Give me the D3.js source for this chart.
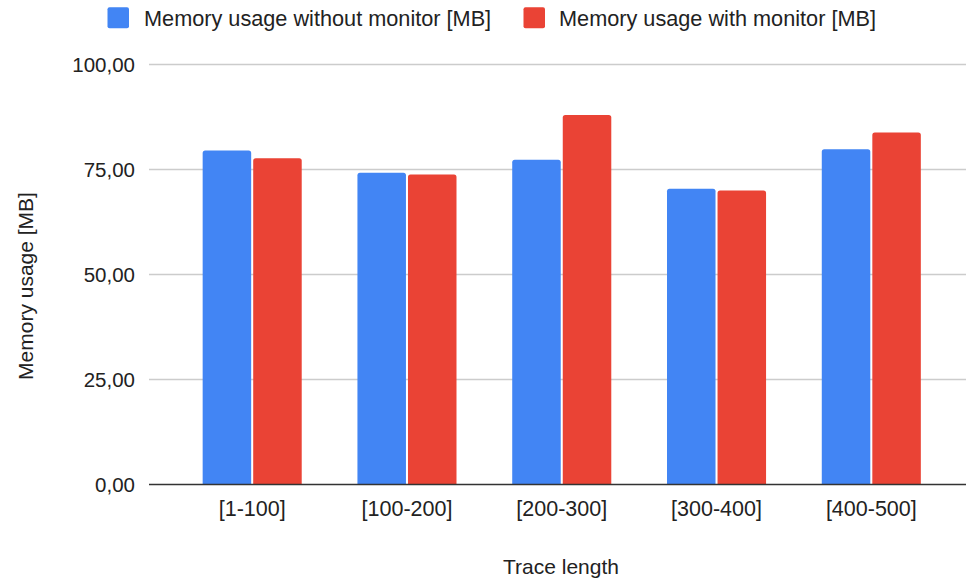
<!DOCTYPE html>
<html>
<head>
<meta charset="utf-8">
<script src="https://cdn.jsdelivr.net/npm/d3@7"></script>
<style>
  body { margin: 0; background: #fff; }
  text { font-family: "Liberation Sans", Arial, sans-serif; }
</style>
</head>
<body>
<script>
var categories = ['[1-100]', '[100-200]', '[200-300]', '[300-400]', '[400-500]'];
var seriesNames = ['Memory usage without monitor [MB]', 'Memory usage with monitor [MB]'];
var withoutMonitor = [79.5, 74.2, 77.3, 70.4, 79.8];
var withMonitor = [77.7, 73.8, 88.0, 70.0, 83.8];
var yTicks = [0, 25, 50, 75, 100];
var colors = ['#4285f4', '#ea4335'];

var canvasWidth = 966;
var canvasHeight = 579;

var svg = d3.select('body')
    .append('svg')
    .attr('width', canvasWidth)
    .attr('height', canvasHeight);

var gridLeft = 149, gridRight = 966;

var yScale = d3.scaleLinear().domain([0, 100]).range([484.5, 64.5]);

var x0 = d3.scaleBand()
    .domain(categories)
    .range([174.8, 948.7])
    .paddingInner(0.36)
    .paddingOuter(0.18);

var x1 = d3.scaleBand()
    .domain([0, 1])
    .range([0, x0.bandwidth()])
    .paddingInner(0.04);

// gridlines + y labels
svg.append('g')
    .selectAll('line')
    .data(yTicks.filter(function (d) { return d > 0; }))
    .enter()
    .append('line')
    .attr('x1', gridLeft)
    .attr('x2', gridRight)
    .attr('y1', function (d) { return yScale(d); })
    .attr('y2', function (d) { return yScale(d); })
    .attr('stroke', '#cccccc')
    .attr('stroke-width', 1.5);

var fmt = function (d) { return d3.format('.2f')(d).replace('.', ','); };

svg.append('g')
    .selectAll('text')
    .data(yTicks)
    .enter()
    .append('text')
    .attr('x', 135)
    .attr('y', function (d) { return yScale(d) + 7.6; })
    .attr('text-anchor', 'end')
    .attr('font-size', '20.5px')
    .attr('fill', '#222')
    .text(fmt);

// bars with rounded tops
function barPath(x, y, w, h, r) {
    r = Math.min(r, h);
    return 'M' + x + ',' + (y + h) +
        'V' + (y + r) +
        'Q' + x + ',' + y + ' ' + (x + r) + ',' + y +
        'H' + (x + w - r) +
        'Q' + (x + w) + ',' + y + ' ' + (x + w) + ',' + (y + r) +
        'V' + (y + h) + 'Z';
}

var seriesData = [withoutMonitor, withMonitor];
seriesData.forEach(function (vals, si) {
    svg.append('g')
        .selectAll('path')
        .data(vals)
        .enter()
        .append('path')
        .attr('fill', colors[si])
        .attr('d', function (d, i) {
            var x = x0(categories[i]) + x1(si);
            var y = yScale(d);
            return barPath(x, y, x1.bandwidth(), yScale(0) - y, 2.5);
        });
});

// baseline
svg.append('line')
    .attr('x1', gridLeft)
    .attr('x2', gridRight)
    .attr('y1', yScale(0))
    .attr('y2', yScale(0))
    .attr('stroke', '#333333')
    .attr('stroke-width', 1.6);

// x labels
svg.append('g')
    .selectAll('text')
    .data(categories)
    .enter()
    .append('text')
    .attr('x', function (d) { return x0(d) + x0.bandwidth() / 2; })
    .attr('y', 516)
    .attr('text-anchor', 'middle')
    .attr('font-size', '21.5px')
    .attr('fill', '#222')
    .text(function (d) { return d; });

// axis titles
svg.append('text')
    .attr('x', 561)
    .attr('y', 574)
    .attr('text-anchor', 'middle')
    .attr('font-size', '21px')
    .attr('fill', '#222')
    .text('Trace length');

svg.append('text')
    .attr('transform', 'translate(33,286) rotate(-90)')
    .attr('text-anchor', 'middle')
    .attr('font-size', '21px')
    .attr('fill', '#222')
    .text('Memory usage [MB]');

// legend
var legendX = [107.5, 523.5];
var legend = svg.append('g')
    .selectAll('g')
    .data(seriesNames)
    .enter()
    .append('g')
    .attr('transform', function (d, i) { return 'translate(' + legendX[i] + ',7.3)'; });

legend.append('rect')
    .attr('width', 21.5)
    .attr('height', 21)
    .attr('rx', 2)
    .attr('fill', function (d, i) { return colors[i]; });

legend.append('text')
    .attr('x', function (d, i) { return i === 0 ? 36.5 : 35.5; })
    .attr('y', 18.7)
    .attr('font-size', '21.7px')
    .attr('fill', '#222')
    .text(function (d) { return d; });
</script>
</body>
</html>
